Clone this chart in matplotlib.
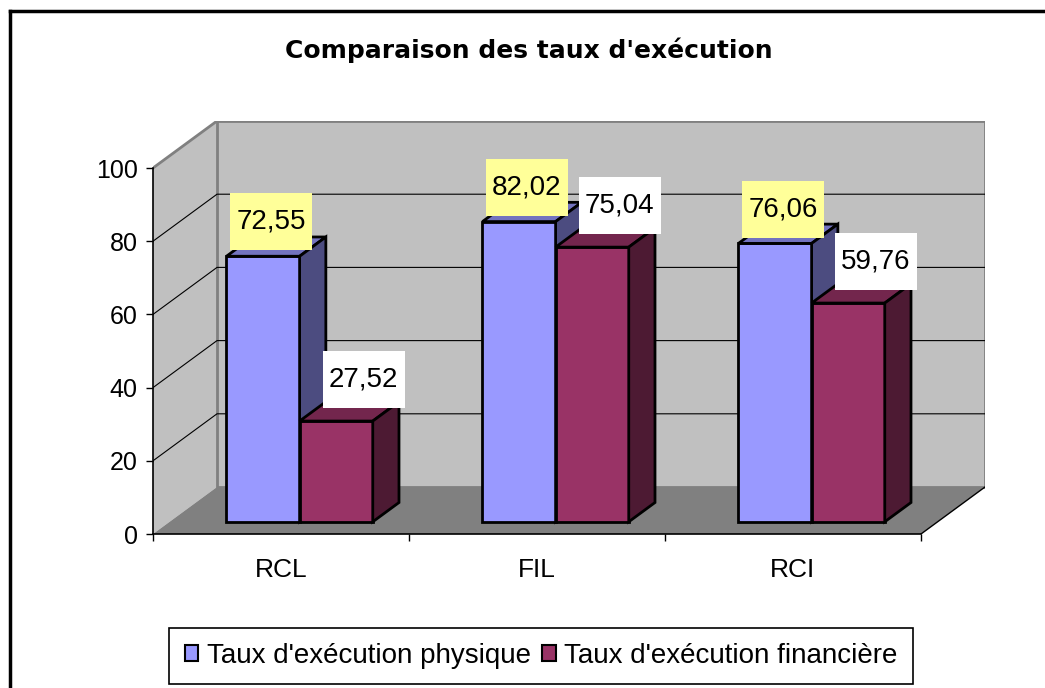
import matplotlib.pyplot as plt
from matplotlib.patches import Polygon, Rectangle
from matplotlib.lines import Line2D

plt.rcParams['font.family'] = ['Liberation Sans', 'DejaVu Sans']

# ------------------------------------------------------------------
# Data
# ------------------------------------------------------------------
categories = ["RCL", "FIL", "RCI"]
physique = [72.55, 82.02, 76.06]
financiere = [27.52, 75.04, 59.76]
series_names = ["Taux d'exécution physique", "Taux d'exécution financière"]
yticks = [0, 20, 40, 60, 80, 100]

# colours (front / top / side faces, label background)
front_cols = ["#9999FF", "#993366"]
top_cols = ["#7373BF", "#73264D"]
side_cols = ["#4C4C80", "#4D1A33"]
label_bg = ["#FFFF99", "#FFFFFF"]

W, H = 1045, 688
fig = plt.figure(figsize=(W / 100, H / 100), dpi=100)

# 3D look: depth of the floor, in data units
DX, DY = 0.25, 12.84
ax = fig.add_axes([153 / W, (H - 534) / H, (3 + DX) * 256 / W, (100 + DY) * 3.66 / H])
ax.set_xlim(0, 3 + DX)
ax.set_ylim(0, 100 + DY)
ax.patch.set_visible(False)

wall = "#C0C0C0"
edge = "#808080"

# side wall, back wall, floor
ax.add_patch(Polygon([(0, 0), (DX, DY), (DX, 100 + DY), (0, 100)], fc=wall, ec="none", zorder=0))
ax.add_patch(Rectangle((DX, DY), 3, 100, fc=wall, ec=edge, lw=2, zorder=0))
ax.add_patch(Polygon([(0, 0), (3, 0), (3 + DX, DY), (DX, DY)], fc=edge, ec="none", zorder=1))
ax.plot([0, DX], [100, 100 + DY], color=edge, lw=2, zorder=1)
ax.plot([3, 3 + DX], [0, DY], color="black", lw=1, zorder=1)

# gridlines on side + back walls
for v in yticks[1:-1]:
    ax.plot([0, DX, 3 + DX], [v, v + DY, v + DY], color="black", lw=0.8, zorder=1)

# ------------------------------------------------------------------
# Bars
# ------------------------------------------------------------------
bar_w = 0.2857
start = 0.222
f0, fd = 0.26, 0.41          # bar front position / depth (fraction of floor depth)
ox, oy = f0 * DX, f0 * DY
dx, dy = fd * DX, fd * DY
lab_dx = [0.031, 0.107]
lab_dy = [1.6, 3.5]
box_w, box_h = 82 / 256, 57 / 3.66

for i in range(len(categories)):
    for j, vals in enumerate([physique, financiere]):
        v = vals[i]
        x0 = i + start + j * bar_w + ox
        y0 = oy
        z = 3 + i * 2 + j
        ax.add_patch(Polygon([(x0, y0), (x0 + bar_w, y0), (x0 + bar_w, y0 + v), (x0, y0 + v)],
                             fc=front_cols[j], ec="black", lw=2, joinstyle="miter", zorder=z))
        ax.add_patch(Polygon([(x0, y0 + v), (x0 + bar_w, y0 + v),
                              (x0 + bar_w + dx, y0 + v + dy), (x0 + dx, y0 + v + dy)],
                             fc=top_cols[j], ec="black", lw=2, joinstyle="miter", zorder=z))
        ax.add_patch(Polygon([(x0 + bar_w, y0), (x0 + bar_w + dx, y0 + dy),
                              (x0 + bar_w + dx, y0 + v + dy), (x0 + bar_w, y0 + v)],
                             fc=side_cols[j], ec="black", lw=2, joinstyle="miter", zorder=z))

# value labels
for i in range(len(categories)):
    for j, vals in enumerate([physique, financiere]):
        v = vals[i]
        cx = i + start + j * bar_w + ox + bar_w / 2 + lab_dx[j]
        by = oy + v + lab_dy[j]
        ax.add_patch(Rectangle((cx - box_w / 2, by), box_w, box_h, fc=label_bg[j], ec="none",
                               zorder=20, clip_on=False))
        ax.text(cx, by + box_h / 2, f"{v:.2f}".replace(".", ","), ha="center", va="center",
                fontsize=20, zorder=21, clip_on=False)

# ------------------------------------------------------------------
# Axes
# ------------------------------------------------------------------
for s in ["top", "right"]:
    ax.spines[s].set_visible(False)
ax.spines["left"].set_bounds(0, 100)
ax.spines["bottom"].set_bounds(0, 3)
for s in ["left", "bottom"]:
    ax.spines[s].set_linewidth(1.2)
    ax.spines[s].set_zorder(2)

ax.set_yticks(yticks)
ax.tick_params(axis="y", length=5, width=1, labelsize=18, pad=6)
ax.set_xticks([0, 1, 2, 3])
ax.set_xticklabels([])
ax.set_xticks([0.5, 1.5, 2.5], minor=True)
ax.set_xticklabels(categories, minor=True)
ax.tick_params(axis="x", which="major", length=5, width=1)
ax.tick_params(axis="x", which="minor", length=0, pad=17, labelsize=19)

fig.text(529 / W, 1 - 50 / H, "Comparaison des taux d'exécution", ha="center", va="center",
         fontsize=18, fontweight="bold", family="DejaVu Sans")

handles = [Rectangle((0, 0), 1, 1, fc=c, ec="black", lw=1.5) for c in front_cols]
leg = fig.legend(handles, series_names, loc="center", bbox_to_anchor=(541 / W, 1 - 656 / H),
                 ncol=2, fontsize=20, handlelength=0.5, handleheight=0.5, handletextpad=0.3,
                 columnspacing=0.4, borderpad=0.55, borderaxespad=0, fancybox=False,
                 edgecolor="black", framealpha=1)
leg.get_frame().set_linewidth(1.2)

# outer chart border
fig.add_artist(Line2D([9.5 / W, 9.5 / W], [0, 1 - 11 / H], color="black", lw=2.5,
                      transform=fig.transFigure))
fig.add_artist(Line2D([9.5 / W, 1], [1 - 11 / H, 1 - 11 / H], color="black", lw=2.5,
                      transform=fig.transFigure))

fig.savefig("out.png", dpi=100)
